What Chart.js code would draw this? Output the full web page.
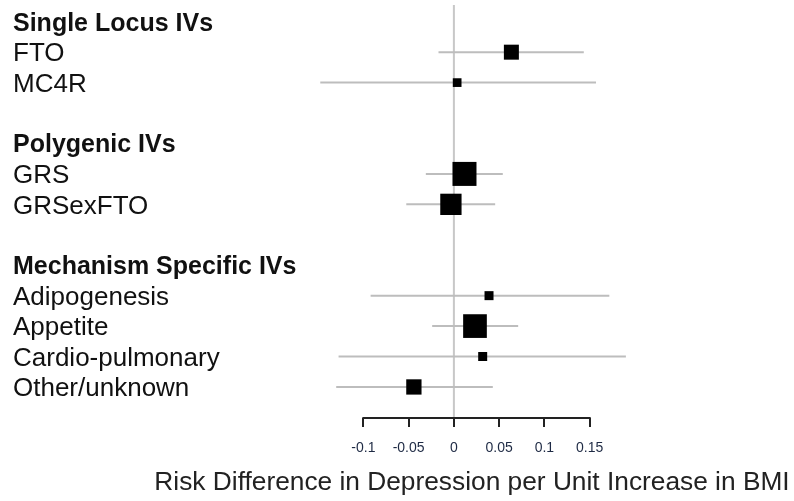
<!DOCTYPE html>
<html>
<head>
<meta charset="utf-8">
<script src="https://cdn.jsdelivr.net/npm/chart.js@4"></script>
<style>
  body { margin: 0; background: #fff; }
  #wrap { width: 794px; height: 501px; }
</style>
</head>
<body>
<div id="wrap"><canvas id="myChart" width="794" height="501"></canvas></div>
<script>
// Rows shown on the left, top to bottom ('' = blank spacer row)
const rowLabels = [
  'Single Locus IVs', 'FTO', 'MC4R', '',
  'Polygenic IVs', 'GRS', 'GRSexFTO', '',
  'Mechanism Specific IVs', 'Adipogenesis', 'Appetite', 'Cardio-pulmonary', 'Other/unknown'
];
const headerRows = ['Single Locus IVs', 'Polygenic IVs', 'Mechanism Specific IVs'];

// IV estimates (risk difference) and 95% CI
const ivNames  = ['FTO', 'MC4R', 'GRS', 'GRSexFTO', 'Adipogenesis', 'Appetite', 'Cardio-pulmonary', 'Other/unknown'];
const estimate = [0.0635, 0.0036, 0.0117, -0.0033, 0.0388, 0.0233, 0.0318, -0.0442];
const lower    = [-0.017, -0.1476, -0.031, -0.0526, -0.092, -0.024, -0.1274, -0.130];
const upper    = [0.1435, 0.157, 0.054, 0.0456, 0.1717, 0.071, 0.190, 0.043];
// relative precision weight (box size)
const weight   = [15, 8.7, 24, 21.3, 9, 23.7, 9, 15.3];

const xTicks = [-0.1, -0.05, 0, 0.05, 0.1, 0.15];
const xTitle = 'Risk Difference in Depression per Unit Increase in BMI';

const rowOf = name => rowLabels.indexOf(name);
const font = 'Liberation Sans, Arial, sans-serif';

// squares
const datasets = [{
  type: 'scatter',
  data: ivNames.map((n, i) => ({ x: estimate[i], y: rowOf(n) })),
  pointStyle: 'rect',
  pointRadius: weight.map(w => w / Math.SQRT2),
  pointBorderWidth: 0,
  backgroundColor: '#000',
  borderColor: '#000'
}];

// confidence intervals
ivNames.forEach((n, i) => {
  datasets.push({
    type: 'line',
    data: [{ x: lower[i], y: rowOf(n) }, { x: upper[i], y: rowOf(n) }],
    borderColor: '#bdbdbd',
    borderWidth: 2,
    pointRadius: 0
  });
});

// null line at 0
datasets.push({
  type: 'line',
  data: [{ x: 0, y: -0.55 }, { x: 0, y: 13.02 }],
  borderColor: '#c8c8c8',
  borderWidth: 2,
  pointRadius: 0
});

// axis line only between first and last tick + axis title (no squeezing)
const axisLine = {
  id: 'axisLine',
  afterDraw(chart) {
    const x = chart.scales.x;
    const c = chart.ctx;
    const y = chart.chartArea.bottom;
    c.save();
    c.strokeStyle = '#222';
    c.lineWidth = 2;
    c.beginPath();
    c.moveTo(x.getPixelForValue(xTicks[0]) - 1, y);
    c.lineTo(x.getPixelForValue(xTicks[xTicks.length - 1]) + 1, y);
    c.stroke();

    c.fillStyle = '#222';
    c.font = '26.3px ' + font;
    c.textAlign = 'center';
    c.textBaseline = 'middle';
    c.fillText(xTitle, (x.left + x.right) / 2, x.bottom - 18);
    c.restore();
  }
};

const ctx = document.getElementById('myChart').getContext('2d');
const myChart = new Chart(ctx, {
  data: { datasets: datasets },
  plugins: [axisLine],
  options: {
    responsive: false,
    animation: false,
    layout: { autoPadding: false, padding: { top: 5, left: 13, right: 150, bottom: 0 } },
    plugins: { legend: { display: false }, tooltip: { enabled: false } },
    scales: {
      x: {
        type: 'linear',
        min: -0.17,
        max: 0.21,
        afterBuildTicks: s => { s.ticks = xTicks.map(v => ({ value: v })); },
        afterFit: s => { s.height = 83; s.paddingLeft = 0; s.paddingRight = 0; },
        border: { display: false },
        grid: { drawOnChartArea: false, tickLength: 9, color: '#222', lineWidth: 2 },
        ticks: {
          autoSkip: false,
          maxRotation: 0,
          padding: 13,
          color: '#1e2a44',
          font: { family: font, size: 14 },
          callback: v => String(+v.toFixed(2))
        }
      },
      y: {
        type: 'linear',
        reverse: true,
        min: -0.55,
        max: 13.02,
        afterBuildTicks: s => { s.ticks = rowLabels.map((l, i) => ({ value: i })); },
        afterFit: s => { s.width = 287; s.paddingTop = 0; s.paddingBottom = 0; },
        border: { display: false },
        grid: { display: false },
        ticks: {
          autoSkip: false,
          crossAlign: 'far',
          labelOffset: 2,
          color: '#111',
          font: c => {
            const head = headerRows.includes(rowLabels[c.index]);
            return { family: font, size: head ? 25 : 26, weight: head ? 'bold' : 'normal' };
          },
          callback: (v, i) => rowLabels[i]
        }
      }
    }
  }
});
</script>
</body>
</html>
